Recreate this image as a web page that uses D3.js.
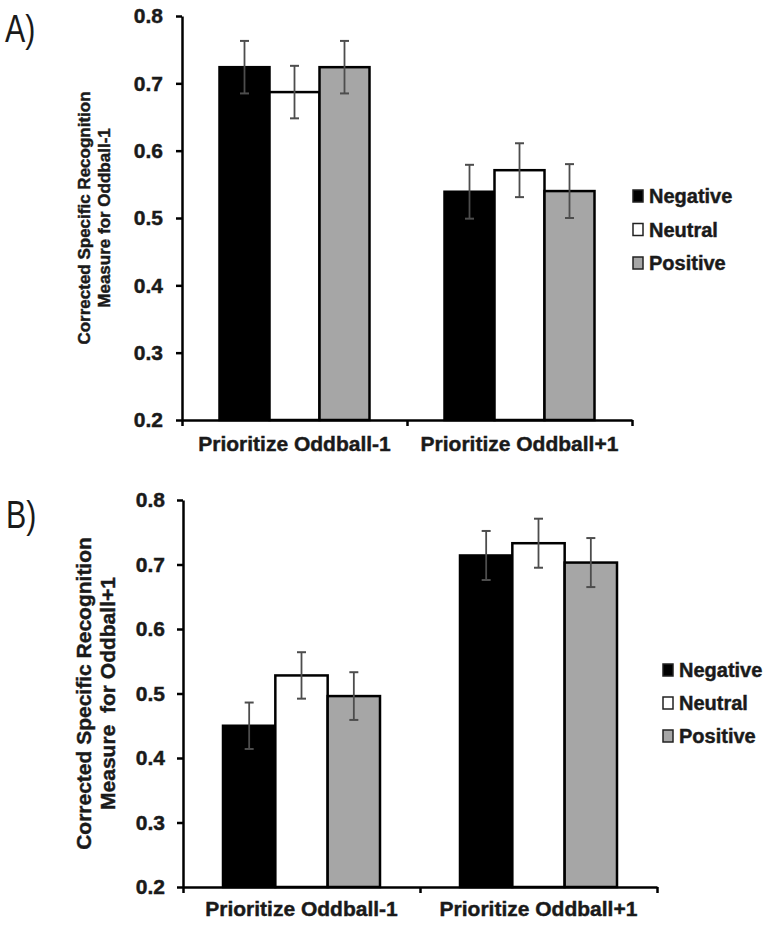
<!DOCTYPE html>
<html>
<head>
<meta charset="utf-8">
<script src="https://cdn.jsdelivr.net/npm/d3@7"></script>
<style>
  body { margin: 0; background: #fff; }
  text { font-family: "Liberation Sans", Arial, sans-serif; font-weight: bold; fill: #1a1a1a; }
  text.heavy { stroke: #1a1a1a; stroke-width: 0.45px; }
</style>
</head>
<body>
<svg id="chart" width="772" height="928"></svg>
<script>
// ---- data ----
const categories = ["Prioritize Oddball-1", "Prioritize Oddball+1"];
const series = ["Negative", "Neutral", "Positive"];
const colors = ["#000000", "#ffffff", "#a6a6a6"];
const yTicks = [0.2, 0.3, 0.4, 0.5, 0.6, 0.7, 0.8];

// Panel A: Corrected specific recognition for Oddball-1
const aNegative = [0.724, 0.539];
const aNeutral  = [0.687, 0.571];
const aPositive = [0.724, 0.540];
const aNegErr = [0.039, 0.040];
const aNeuErr = [0.039, 0.040];
const aPosErr = [0.039, 0.040];

// Panel B: Corrected specific recognition for Oddball+1
const bNegative = [0.450, 0.714];
const bNeutral  = [0.528, 0.733];
const bPositive = [0.496, 0.703];
const bNegErr = [0.036, 0.038];
const bNeuErr = [0.036, 0.038];
const bPosErr = [0.037, 0.038];

const panelLabels = ["A)", "B)"];
const yTitlesA = ["Corrected Specific Recognition", "Measure for Oddball-1"];
const yTitlesB = ["Corrected Specific Recognition", "Measure  for Oddball+1"];

const svg = d3.select("#chart");

function drawPanel(cfg) {
  const g = svg.append("g");
  const y = d3.scaleLinear().domain([0.2, 0.8]).range([cfg.bottom, cfg.top]);
  const x0 = d3.scaleBand().domain(categories).range([cfg.left, cfg.right]).padding(0);
  const bw = x0.bandwidth();
  const x1 = d3.scaleBand().domain(series).range([cfg.groupPad, bw - cfg.groupPad]).padding(0);

  const rows = [];
  categories.forEach((c, ci) => {
    series.forEach((s, si) => {
      rows.push({cat: c, ser: s, color: colors[si], v: cfg.values[si][ci], e: cfg.errors[si][ci]});
    });
  });

  // bars
  g.selectAll("rect.bar").data(rows).enter().append("rect")
    .attr("class", "bar")
    .attr("x", d => x0(d.cat) + x1(d.ser))
    .attr("y", d => y(d.v))
    .attr("width", x1.bandwidth())
    .attr("height", d => y(0.2) - y(d.v))
    .attr("fill", d => d.color)
    .attr("stroke", "#000")
    .attr("stroke-width", 2.5);

  // error bars
  const eg = g.selectAll("g.err").data(rows).enter().append("g").attr("class", "err")
    .attr("stroke", "#4d4d4d");
  eg.append("line")
    .attr("x1", d => x0(d.cat) + x1(d.ser) + x1.bandwidth() / 2)
    .attr("x2", d => x0(d.cat) + x1(d.ser) + x1.bandwidth() / 2)
    .attr("y1", d => y(d.v + d.e))
    .attr("y2", d => y(d.v - d.e))
    .attr("stroke-width", 1.8);
  [1, -1].forEach(sign => {
    eg.append("line")
      .attr("x1", d => x0(d.cat) + x1(d.ser) + x1.bandwidth() / 2 - 4.5)
      .attr("x2", d => x0(d.cat) + x1(d.ser) + x1.bandwidth() / 2 + 4.5)
      .attr("y1", d => y(d.v + sign * d.e))
      .attr("y2", d => y(d.v + sign * d.e))
      .attr("stroke-width", 2);
  });

  // y axis
  const ya = g.append("g").attr("transform", `translate(${cfg.left},0)`)
    .call(d3.axisLeft(y).tickValues(yTicks).tickFormat(d3.format(".1f"))
      .tickSizeInner(6).tickSizeOuter(0).tickPadding(cfg.tickPad));
  ya.select(".domain").attr("stroke", "#000").attr("stroke-width", 2.5);
  ya.selectAll(".tick line").attr("stroke", "#000").attr("stroke-width", 2.5);
  ya.selectAll(".tick text").attr("font-size", 21).attr("fill", "#1a1a1a")
    .attr("class", "heavy")
    .style("font-family", "'Liberation Sans', Arial, sans-serif").style("font-weight", "bold");

  // x axis (ticks at category boundaries)
  const xb = d3.scaleLinear().domain([0, categories.length]).range([cfg.left, cfg.right]);
  const xa = g.append("g").attr("transform", `translate(0,${cfg.bottom})`)
    .call(d3.axisBottom(xb).tickValues(d3.range(categories.length + 1)).tickFormat("")
      .tickSizeInner(6).tickSizeOuter(0));
  xa.select(".domain").attr("stroke", "#000").attr("stroke-width", 2.5);
  xa.selectAll(".tick line").attr("stroke", "#000").attr("stroke-width", 2.5);

  g.selectAll("text.xlab").data(categories).enter().append("text")
    .attr("class", "xlab heavy")
    .attr("x", d => x0(d) + bw / 2)
    .attr("y", cfg.xLabelY)
    .attr("text-anchor", "middle")
    .attr("font-size", 21)
    .text(d => d);

  // y title
  const yt = g.append("text")
    .attr("class", "heavy")
    .attr("transform", `translate(${cfg.yTitleX},${(cfg.top + cfg.bottom) / 2}) rotate(-90)`)
    .attr("text-anchor", "middle")
    .attr("font-size", cfg.yTitleSize);
  cfg.yTitles.forEach((t, i) => {
    yt.append("tspan").attr("x", 0).attr("dy", i === 0 ? 0 : cfg.yTitleLine)
      .style("white-space", "pre").text(t);
  });

  // panel label
  g.append("text")
    .attr("transform", `translate(${cfg.panelX},${cfg.panelY}) scale(0.92,1.15)`)
    .attr("font-size", 33).style("font-weight", "normal")
    .text(cfg.panelLabel);

  // legend
  const lg = g.selectAll("g.leg").data(series).enter().append("g").attr("class", "leg")
    .attr("transform", (d, i) => `translate(${cfg.legX},${cfg.legY + i * cfg.legStep})`);
  lg.append("rect")
    .attr("x", 0).attr("y", -13).attr("width", 10).attr("height", 12)
    .attr("fill", (d, i) => colors[i]).attr("stroke", "#222").attr("stroke-width", 1.5);
  lg.append("text").attr("class", "heavy").attr("x", 16).attr("y", 0)
    .attr("font-size", 20).text(d => d);
}

drawPanel({
  top: 16, bottom: 420, left: 182, right: 632, groupPad: 37.5, tickPad: 13,
  values: [aNegative, aNeutral, aPositive], errors: [aNegErr, aNeuErr, aPosErr],
  xLabelY: 451, yTitles: yTitlesA, yTitleX: 90, yTitleSize: 17, yTitleLine: 20,
  panelLabel: panelLabels[0], panelX: 5, panelY: 42,
  legX: 633, legY: 203, legStep: 33.5
});

drawPanel({
  top: 500, bottom: 887, left: 183, right: 657, groupPad: 40, tickPad: 12,
  values: [bNegative, bNeutral, bPositive], errors: [bNegErr, bNeuErr, bPosErr],
  xLabelY: 916, yTitles: yTitlesB, yTitleX: 91, yTitleSize: 21, yTitleLine: 24,
  panelLabel: panelLabels[1], panelX: 6, panelY: 528,
  legX: 663, legY: 677, legStep: 33
});
</script>
</body>
</html>
